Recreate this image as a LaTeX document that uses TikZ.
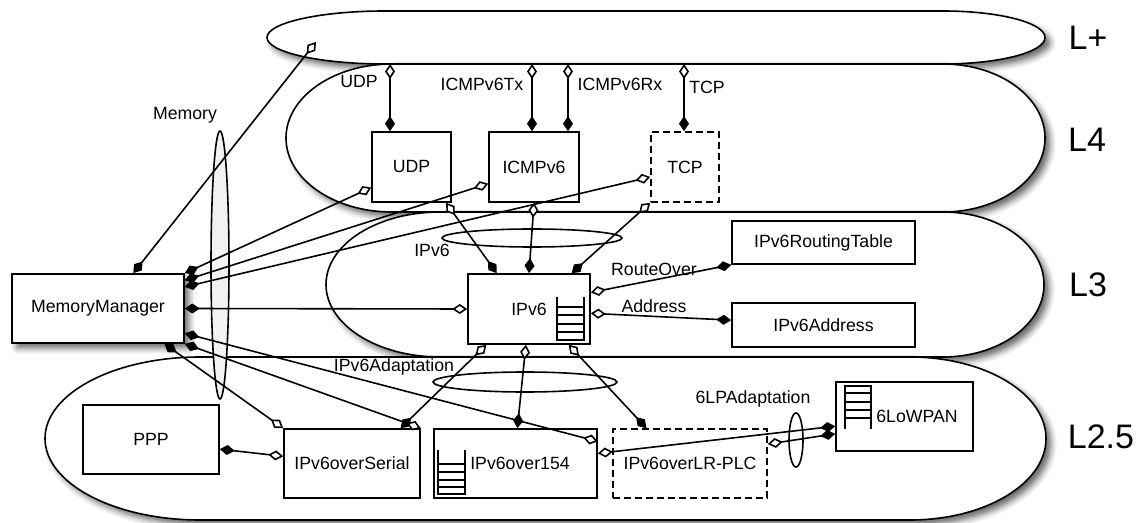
\documentclass[tikz,border=0pt]{standalone}
\usepackage{fontspec}
\setmainfont{Liberation Sans}
\usetikzlibrary{arrows.meta,shadows.blur}

\begin{document}
\begin{tikzpicture}[x=1pt, y=1pt, line width=1.6pt,
  shade/.style={blur shadow={shadow xshift=5pt, shadow yshift=-5pt, shadow blur radius=6pt, shadow opacity=60}},
  layer/.style={draw, fill=white, shade},
  box/.style={draw, fill=white, rectangle, inner sep=0pt, font=\fontsize{17.7}{20}\selectfont},
  optional/.style={dash pattern=on 7pt off 4pt},
  link/.style={arrows={Diamond[length=15pt,width=10pt,fill=black]-Diamond[length=15pt,width=10pt,fill=white]}},
  lbl/.style={font=\fontsize{17.7}{20}\selectfont},
  big/.style={font=\fontsize{34}{40}\selectfont}]
\useasboundingbox (0,0) rectangle (1147,522);

% layers, top to bottom
\draw[layer] (385,511) -- (943,511) arc[start angle=90,end angle=-90,x radius=102,y radius=26.5]
  -- (385,458) arc[start angle=270,end angle=90,x radius=118,y radius=26.5] -- cycle;
\draw[layer] (392,458) -- (943,458) arc[start angle=90,end angle=-90,x radius=102,y radius=74]
  -- (392,310) arc[start angle=270,end angle=90,x radius=106,y radius=74] -- cycle;
\draw[layer] (440,310) -- (943,310) arc[start angle=90,end angle=-90,x radius=101,y radius=72.5]
  -- (440,165) arc[start angle=270,end angle=90,x radius=114,y radius=72.5] -- cycle;
\draw[layer] (200,165) -- (910,165) arc[start angle=90,end angle=-90,x radius=136,y radius=81.5]
  -- (200,2) arc[start angle=270,end angle=90,x radius=155,y radius=81.5] -- cycle;
\node[big] at (1088,484) {L+};
\node[big] at (1087,382) {L4};
\node[big] at (1088,237) {L3};
\node[big] at (1101,85) {L2.5};

% groupings
\draw[fill=gray!10] (220,257) ellipse [x radius=9, y radius=134];
\draw (532,284) ellipse [x radius=90, y radius=9];
\draw (525,140) ellipse [x radius=92, y radius=10];
\draw (796,82) ellipse [x radius=7, y radius=27];
\node[lbl] at (185,407) {Memory};
\node[lbl] at (432,272) {IPv6};
\node[lbl] at (394,155) {IPv6Adaptation};
\node[lbl] at (753,123) {6LPAdaptation};

% components
\node[box, shade, minimum width=172, minimum height=69] (mm) at (98,213.5) {MemoryManager};
\node[box, minimum width=79, minimum height=70] (udp) at (411.5,355) {UDP};
\node[box, minimum width=90, minimum height=70] (icmp) at (534,355) {ICMPv6};
\node[box, optional, minimum width=68, minimum height=70] (tcp) at (685,355) {TCP};
\node[box, minimum width=122, minimum height=70] (ipv6) at (529,213) {IPv6};
\node[box, minimum width=183, minimum height=43] (rtab) at (823.5,279.5) {IPv6RoutingTable};
\node[box, minimum width=183, minimum height=44] (addr) at (823.5,197) {IPv6Address};
\node[box, minimum width=136, minimum height=69] (ppp) at (151,82.5) {PPP};
\node[box, minimum width=136, minimum height=69] (serial) at (352,58.5) {IPv6overSerial};
\node[box, minimum width=163, minimum height=69] (ovr154) at (515.5,58.5) {\hspace*{9pt}IPv6over154};
\node[box, optional, minimum width=154, minimum height=69] (plc) at (690,58.5) {IPv6overLR-PLC};
\node[box, minimum width=137, minimum height=69] (lowpan) at (904.5,105.5) {\hspace*{25pt}6LoWPAN};

% queue marks
\draw (557,225) -- (557,182) -- (584,182) -- (584,225);
\foreach \y in {190,198,207,215} \draw (557,\y) -- (584,\y);
\draw (438,72) -- (438,28) -- (465,28) -- (465,72);
\foreach \y in {35,42,50,58} \draw (438,\y) -- (465,\y);
\draw (845,93) -- (845,136) -- (871,136) -- (871,93);
\foreach \y in {104,112,120,129} \draw (845,\y) -- (871,\y);

% ports on L+
\coordinate (pudp) at (390,458);
\coordinate (ptx) at (532,458);
\coordinate (prx) at (568,458);
\coordinate (ptcp) at (684,458);
\coordinate (pmem) at (316,480);
\draw[link] (udp.north -| pudp) -- (pudp);
\draw[link] (icmp.north -| ptx) -- (ptx);
\draw[link] (icmp.north -| prx) -- (prx);
\draw[link] (tcp.north -| ptcp) -- (ptcp);
\node[lbl] at (359,440) {UDP};
\node[lbl] at (482,438) {ICMPv6Tx};
\node[lbl] at (620,438) {ICMPv6Rx};
\node[lbl] at (707,435) {TCP};

% memory
\draw[link] (mm.45) -- (pmem);
\draw[link] (mm.north east) -- (udp.207);
\draw[link] (mm.18) -- (icmp.200);
\draw[link] (mm.14) -- (tcp.196);
\draw[link] (mm.east) -- (ipv6.west);
\draw[link] (mm.-16) -- (ovr154.15);
\draw[link] (mm.south east) -- (serial.north east);
\draw[link] (mm.-28) -- (serial.north west);

% network layer
\draw[link] (ipv6.132) -- (udp.-46);
\draw[link] (ipv6.north) -- (icmp.south);
\draw[link] (ipv6.40) -- (tcp.south west);
\draw[link] (rtab.south west) -- node[lbl, above, pos=0.55] {RouteOver} (ipv6.15);
\draw[link] (addr.177) -- node[lbl, above, pos=0.55] {Address} (ipv6.-4);
\draw[link] (serial.36) -- (ipv6.220);
\draw[link] (ovr154.87) -- (ipv6.-95);
\draw[link] (plc.141) -- (ipv6.-42);

% adaptation layer
\draw[link] (ppp.-8) -- (serial.174);
\draw[link] (lowpan.188) -- (ovr154.7);
\draw[link] (lowpan.194) -- (plc.14);
\end{tikzpicture}
\end{document}
